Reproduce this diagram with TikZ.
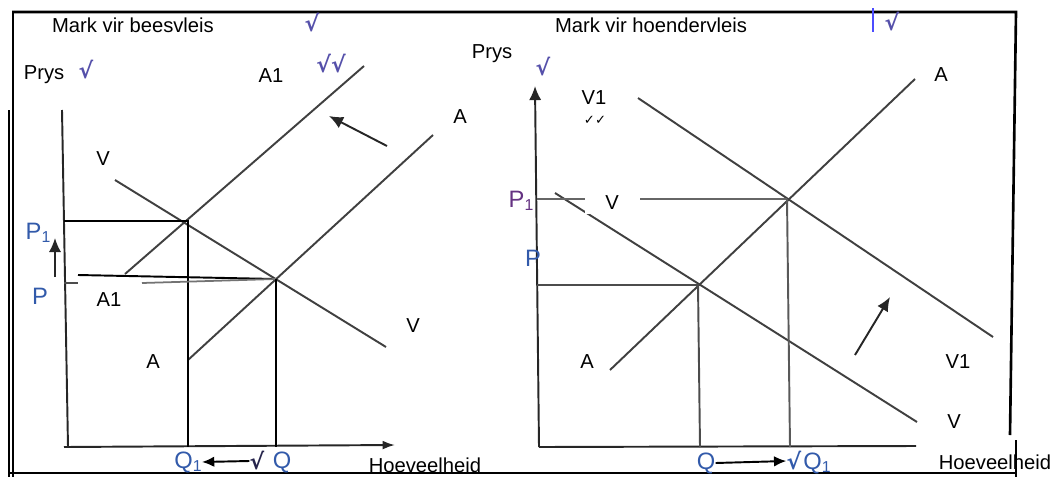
\documentclass[tikz,border=0pt]{standalone}
\usepackage{fontspec}
\setmainfont{Liberation Sans}
\newfontfamily\dejavu{DejaVu Sans}
\usetikzlibrary{arrows.meta}
\definecolor{mk}{RGB}{85,80,170}
\definecolor{pq}{RGB}{50,90,170}
\definecolor{pp}{RGB}{100,50,130}
\begin{document}
\begin{tikzpicture}[x=0.02cm,y=-0.02cm,
  lbl/.style={inner sep=0pt, font=\fontsize{11.5}{13}\selectfont},
  bigl/.style={inner sep=0pt, font=\fontsize{13.5}{15}\selectfont, text=pq},
  chk/.style={inner sep=0pt, font=\dejavu\bfseries\fontsize{12.5}{14}\selectfont, text=mk},
  cline/.style={black!75, line width=1.1pt},
  gline/.style={black, line width=1.1pt},
  axisline/.style={black!85, line width=1.1pt},
  rim/.style={black, line width=1.5pt},
  mvarrow/.style={black!85, line width=1.1pt, -{Latex[length=8pt,width=7pt]}}
]
\useasboundingbox (0,0) rectangle (1061,477);

% ---------- frame ----------
\coordinate (FTL) at (12,12);
\coordinate (FTR) at (1016,12);
\coordinate (FRB) at (1010,435);
\coordinate (FLT) at (13,12);
\coordinate (FLB) at (13,477);
\coordinate (FL2T) at (9,110);
\coordinate (FL2B) at (9,477);
\coordinate (FBL) at (9,473);
\coordinate (FBR) at (1016,473);
\coordinate (FSt) at (1016,440);
\coordinate (FSb) at (1016,477);
\coordinate (BBt) at (873,8);
\coordinate (BBb) at (873,32);
\draw[rim] (FTL) -- (FTR) -- (FRB);
\draw[rim] (FLT) -- (FLB);
\draw[black, line width=0.9pt] (FL2T) -- (FL2B);
\draw[black, line width=1.3pt] (FBL) -- (FBR);
\draw[blue!70, line width=0.8pt] (BBt) -- (BBb);

% ---------- left graph (beesvleis) ----------
\coordinate (LyT) at (62,110);
\coordinate (LyB) at (68,447);
\coordinate (LxL) at (64,447);
\coordinate (LxR) at (395,445);
\coordinate (A1s) at (125,274);
\coordinate (A1e) at (364,66);
\coordinate (As) at (188,360);
\coordinate (Ae) at (433,135);
\coordinate (Vs) at (115,180);
\coordinate (Ve) at (386,347);
\coordinate (E1) at (188,221);
\coordinate (E0) at (276,279);
\coordinate (P1L) at (64,221);
\coordinate (PbL) at (78,275);
\coordinate (PgL) at (142,283);
\coordinate (PtL) at (64,283);
\coordinate (PtR) at (78,283);
\coordinate (Q1B) at (188,447);
\coordinate (QB) at (276,447);
\coordinate (SLs) at (387,146);
\coordinate (SLe) at (329,116);
\coordinate (ULs) at (55,277);
\coordinate (ULe) at (55,238);

\draw[axisline] (LyT) -- (LyB);
\draw[axisline, -{Latex[length=7pt,width=5pt]}] (LxL) -- (LxR);
\draw[cline] (A1s) -- (A1e);
\draw[cline] (As) -- (Ae);
\draw[cline] (Vs) -- (Ve);
\draw[gline] (P1L) -- (E1) -- (Q1B);
\draw[gline] (PbL) -- (E0);
\draw[black!55, line width=1pt] (PgL) -- (E0);
\draw[black!70, line width=1pt] (PtL) -- (PtR);
\draw[gline] (E0) -- (QB);
\draw[mvarrow] (SLs) -- (SLe);
\draw[mvarrow] (ULs) -- (ULe);

\node[lbl] (t1) at (133,25) {Mark vir beesvleis};
\node[chk] (c1) at (312,23) {√};
\node[lbl] (py1) at (44,75) {Prys};
\node[chk] (c2) at (86,70) {√};
\node[lbl] (a1t) at (271,76) {A1};
\node[chk] (c3) at (331,64) {√√};
\node[lbl] (at) at (460,117) {A};
\node[lbl] (vt) at (103,159) {V};
\node[bigl] (p1) at (38,233) {P\raisebox{-0.25ex}{\fontsize{9}{10}\selectfont 1}};
\node[bigl] (p0) at (40,296) {P};
\node[lbl] (a1b) at (109,300) {A1};
\node[lbl] (vb) at (413,326) {V};
\node[lbl] (ab) at (153,362) {A};
\node[bigl] (q1) at (188,462) {Q\raisebox{-0.25ex}{\fontsize{9}{10}\selectfont 1}};
\node[chk, text=black!55!mk] (qs) at (257,461) {√};
\node[bigl] (q0) at (282,462) {Q};
\draw[black, line width=1.1pt, -{Latex[length=7pt,width=6pt]}] (qs.west) -- (q1.east);
\node[lbl] (hv1) at (425,465) {Hoeveelheid};

% ---------- right graph (hoendervleis) ----------
\coordinate (RyB) at (539,447);
\coordinate (RyT) at (535,86);
\coordinate (RxR) at (916,446);
\coordinate (RAs) at (610,370);
\coordinate (RAe) at (915,79);
\coordinate (RV1s) at (638,98);
\coordinate (RV1e) at (993,337);
\coordinate (RVs) at (555,193);
\coordinate (RVe) at (917,422);
\coordinate (F1) at (787,199);
\coordinate (F0) at (698,285);
\coordinate (RP1L) at (537,199);
\coordinate (RPL) at (537,285);
\coordinate (RF1B) at (790,447);
\coordinate (RF0B) at (700,447);
\coordinate (SRs) at (855,355);
\coordinate (SRe) at (890,297);

\draw[axisline, -{Latex[length=8pt,width=7pt]}] (RyB) -- (RyT);
\draw[axisline] (RyB) -- (RxR);
\draw[cline] (RAs) -- (RAe);
\draw[cline] (RV1s) -- (RV1e);
\draw[cline] (RVs) -- (RVe);
\draw[black!60, line width=1.1pt] (RP1L) -- (F1);
\draw[black!65, line width=1.1pt] (F1) -- (RF1B);
\draw[black!70, line width=1.1pt] (RPL) -- (F0) -- (RF0B);
\draw[mvarrow] (SRs) -- (SRe);

\node[lbl] (t2) at (651,25) {Mark vir hoendervleis};
\node[chk] (c4) at (892,22) {√};
\node[lbl] (py2) at (492,54) {Prys};
\node[chk] (c5) at (543,67) {√};
\node[lbl] (v1t) at (594,98) {V1};
\node[inner sep=0pt, font=\dejavu\fontsize{7.5}{9}\selectfont] (cc) at (595,120) {✓✓};
\node[bigl, text=pp] (rp1) at (521,201) {P\raisebox{-0.25ex}{\fontsize{9}{10}\selectfont 1}};
\node[lbl, fill=white, minimum width=1.1cm, minimum height=0.45cm, anchor=north] (rv) at (612,191) {V};
\node[bigl] (rp0) at (533,258) {P};
\node[lbl] (ra) at (941,75) {A};
\node[lbl] (rab) at (587,362) {A};
\node[lbl] (rv1) at (958,362) {V1};
\node[lbl] (rvb) at (954,422) {V};
\node[bigl] (rq) at (706,463) {Q};
\node[chk, text=pq] (rqs) at (794,461) {√};
\node[bigl] (rq1) at (817,463) {Q\raisebox{-0.25ex}{\fontsize{9}{10}\selectfont 1}};
\draw[black, line width=1.1pt, -{Latex[length=7pt,width=6pt]}] (rq.east) -- (rqs.west);
\node[lbl] (hv2) at (995,462) {Hoeveelheid};
\draw[black, line width=1pt] (FSt) -- (FSb);
\end{tikzpicture}
\end{document}
